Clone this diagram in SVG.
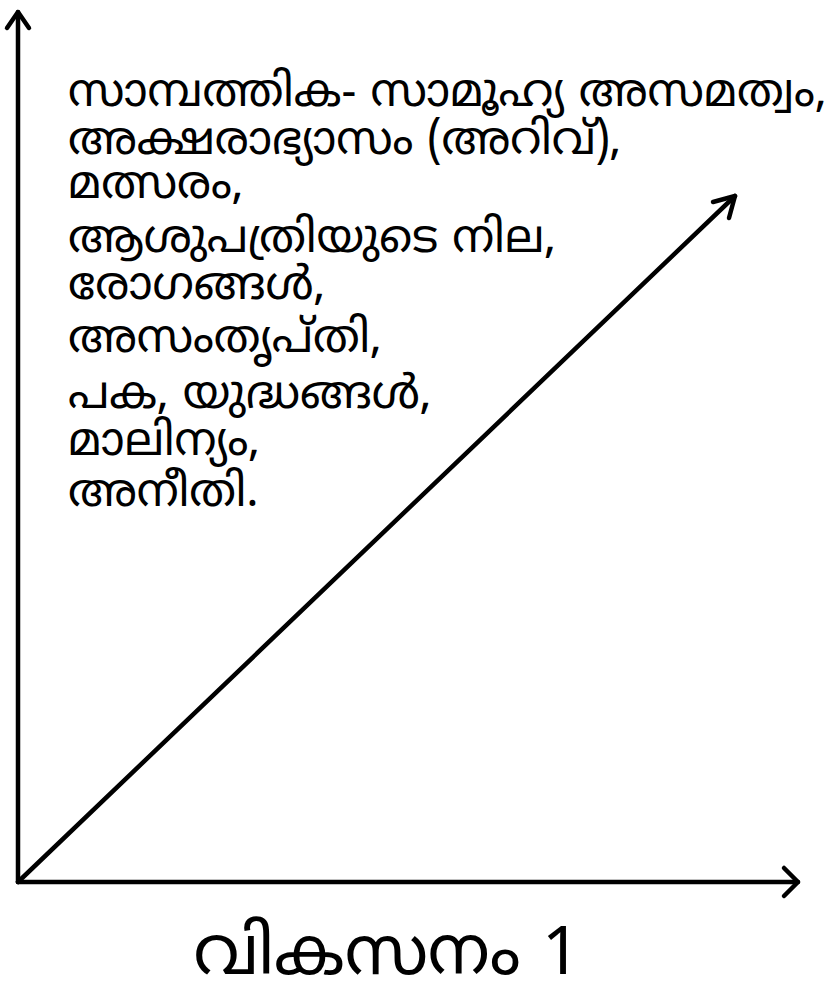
<svg xmlns="http://www.w3.org/2000/svg" width="840" height="986" viewBox="0 0 840 986">
<style>
.ax{stroke:#000;stroke-width:4.5;fill:none;stroke-linecap:round;stroke-linejoin:round}
.t{font-family:"Noto Sans Malayalam","Noto Sans",sans-serif;font-size:46px;fill:#000}
.lab{font-family:"Noto Sans Malayalam","Noto Sans",sans-serif;font-size:68px;fill:#000}
</style>
<rect width="840" height="986" fill="#fff"/>
<g id="connectors">
<path class="ax" d="M18,882 V12"/>
<path class="ax" d="M7,28 L18,12 L29,28"/>
<path class="ax" d="M18,882 H798"/>
<path class="ax" d="M784,868 L798,882 L784,896"/>
<path class="ax" d="M18,882 L735,196"/>
<path class="ax" d="M713,202 L735,196 L729,218"/>
</g>
<g id="text-list">
<text class="t" x="68" y="106">സാമ്പത്തിക- സാമൂഹ്യ അസമത്വം,</text>
<text class="t" x="68" y="154">അക്ഷരാഭ്യാസം (അറിവ്),</text>
<text class="t" x="68" y="198">മത്സരം,</text>
<text class="t" x="68" y="252">ആശുപത്രിയുടെ നില,</text>
<text class="t" x="68" y="299">രോഗങ്ങൾ,</text>
<text class="t" x="68" y="352">അസംതൃപ്തി,</text>
<text class="t" x="68" y="408">പക, യുദ്ധങ്ങൾ,</text>
<text class="t" x="68" y="455">മാലിന്യം,</text>
<text class="t" x="68" y="506">അനീതി.</text>
</g>
<g id="axis-label">
<text class="lab" x="387" y="974" text-anchor="middle">വികസനം 1</text>
</g>
</svg>
